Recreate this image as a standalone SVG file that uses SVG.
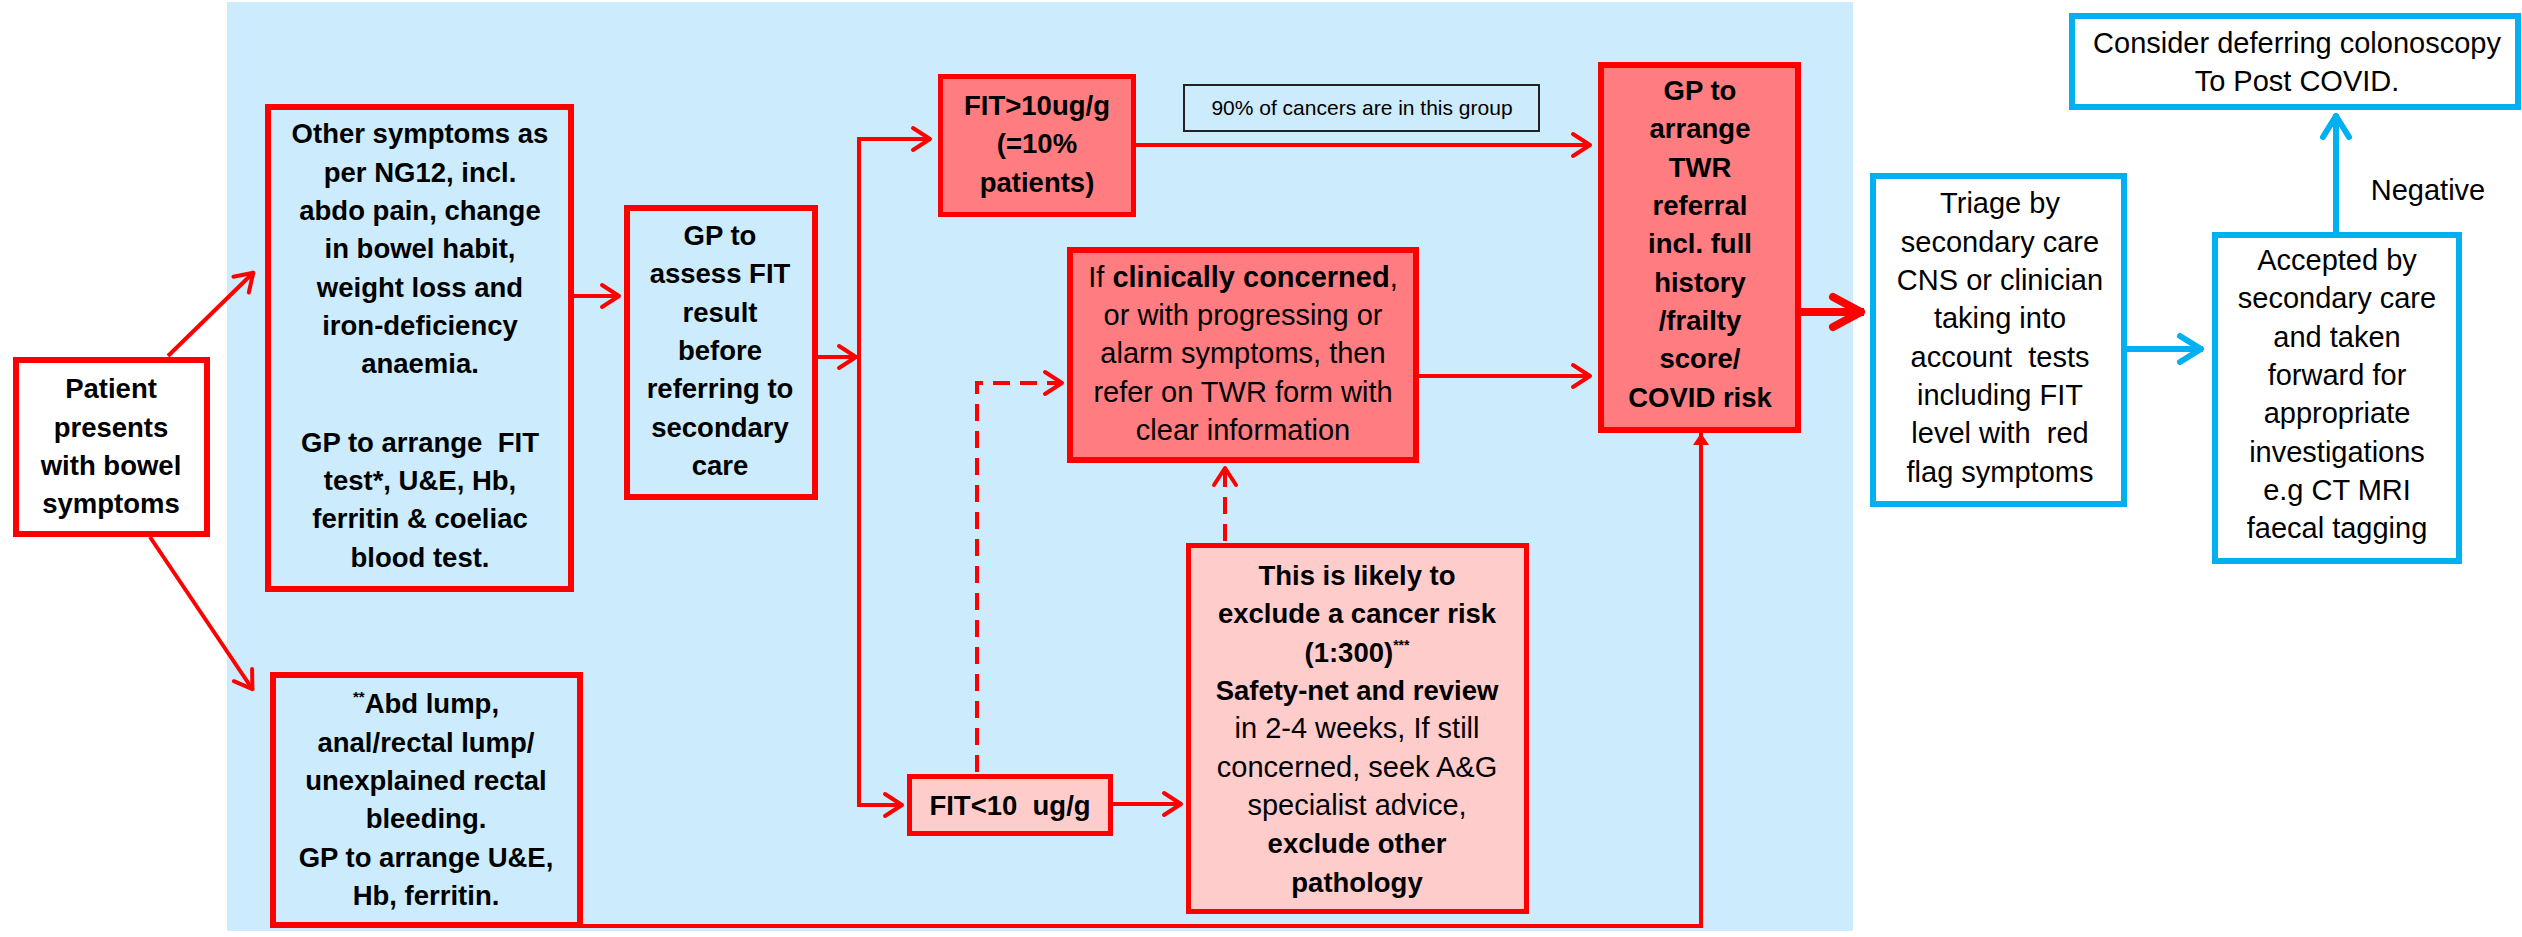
<svg xmlns="http://www.w3.org/2000/svg" width="2522" height="937" viewBox="0 0 2522 937">
<style>
  text { font-family: "Liberation Sans", Arial, sans-serif; fill: #000; text-anchor: middle; }
  .b { font-weight: bold; font-size: 27.5px; }
  .r { font-weight: normal; font-size: 29px; }
  .bt { font-weight: bold; }
  .redbox { stroke: #FF0000; stroke-width: 6; }
  .bluebox { stroke: #00B0F0; stroke-width: 6; fill: #FFFFFF; }
  .lb { fill: #CCEBFC; }
  .salmon { fill: #FF7C80; }
  .pink { fill: #FFCCCC; }
  .conn { fill: none; stroke: #FF0000; stroke-width: 4; }
  .dash { stroke-dasharray: 17 10; }
  .bconn { fill: none; stroke: #00B0F0; stroke-width: 6; }
</style>
<defs>
  <marker id="ar" markerUnits="userSpaceOnUse" viewBox="-30 -20 40 40" markerWidth="40" markerHeight="40" refX="0" refY="0" orient="auto" overflow="visible">
    <path d="M-18,-11 L-1,0 L-18,11" fill="none" stroke="#FF0000" stroke-width="4" stroke-linecap="round" stroke-linejoin="round"/>
  </marker>
  <marker id="arBig" markerUnits="userSpaceOnUse" viewBox="-40 -25 50 50" markerWidth="50" markerHeight="50" refX="0" refY="0" orient="auto" overflow="visible">
    <path d="M-31,-15 L-3,0 L-31,15" fill="none" stroke="#FF0000" stroke-width="8" stroke-linecap="round" stroke-linejoin="round"/>
  </marker>
  <marker id="tri" markerUnits="userSpaceOnUse" viewBox="-20 -10 25 20" markerWidth="25" markerHeight="20" refX="0" refY="0" orient="auto" overflow="visible">
    <path d="M0,0 L-12,-8 L-12,8 Z" fill="#FF0000"/>
  </marker>
  <marker id="arBlue" markerUnits="userSpaceOnUse" viewBox="-35 -20 45 40" markerWidth="45" markerHeight="40" refX="0" refY="0" orient="auto" overflow="visible">
    <path d="M-23,-13 L-2,0 L-23,13" fill="none" stroke="#00B0F0" stroke-width="6" stroke-linecap="round" stroke-linejoin="round"/>
  </marker>
</defs>

<rect x="227" y="2" width="1626" height="929" fill="#CCEBFC"/>

<g id="connectors">
  <path class="conn" d="M168,356 L254,272" marker-end="url(#ar)"/>
  <path class="conn" d="M150,537 L253,690" marker-end="url(#ar)"/>
  <path class="conn" d="M574,296 L620,296" marker-end="url(#ar)"/>
  <path class="conn" d="M818,357 L857,357" marker-end="url(#ar)"/>
  <path class="conn" d="M859,807 L859,139 L931,139" marker-end="url(#ar)"/>
  <path class="conn" d="M859,805 L903,805" marker-end="url(#ar)"/>
  <path class="conn" d="M1136,145 L1591,145" marker-end="url(#ar)"/>
  <path class="conn" d="M1419,376 L1591,376" marker-end="url(#ar)"/>
  <path class="conn" d="M1113,804 L1182,804" marker-end="url(#ar)"/>
  <path class="conn dash" d="M1225,541 L1225,467" marker-end="url(#ar)"/>
  <path class="conn dash" d="M977,772 L977,383 L1063,383" marker-end="url(#ar)"/>
  <path class="conn" d="M583,926 L1701,926 L1701,433" marker-end="url(#tri)"/>
  <path fill="none" stroke="#FF0000" stroke-width="8" d="M1801,312 L1864,312" marker-end="url(#arBig)"/>
  <path class="bconn" d="M2127,349 L2203,349" marker-end="url(#arBlue)"/>
  <path class="bconn" d="M2336,232 L2336,114" marker-end="url(#arBlue)"/>
</g>

<g id="patient">
  <rect class="redbox" x="16" y="360" width="191" height="174" fill="#FFFFFF"/>
  <text class="b" x="111" y="398">Patient</text>
  <text class="b" x="111" y="437">presents</text>
  <text class="b" x="111" y="475">with bowel</text>
  <text class="b" x="111" y="513">symptoms</text>
</g>

<g id="other-symptoms">
  <rect class="redbox lb" x="268" y="107" width="303" height="482"/>
  <text class="b" x="420" y="143">Other symptoms as</text>
  <text class="b" x="420" y="182">per NG12, incl.</text>
  <text class="b" x="420" y="220">abdo pain, change</text>
  <text class="b" x="420" y="258">in bowel habit,</text>
  <text class="b" x="420" y="297">weight loss and</text>
  <text class="b" x="420" y="335">iron-deficiency</text>
  <text class="b" x="420" y="373">anaemia.</text>
  <text class="b" x="420" y="452" xml:space="preserve">GP to arrange  FIT</text>
  <text class="b" x="420" y="490">test*, U&amp;E, Hb,</text>
  <text class="b" x="420" y="528">ferritin &amp; coeliac</text>
  <text class="b" x="420" y="567">blood test.</text>
</g>

<g id="gp-assess">
  <rect class="redbox lb" x="627" y="208" width="188" height="289"/>
  <text class="b" x="720" y="245">GP to</text>
  <text class="b" x="720" y="283">assess FIT</text>
  <text class="b" x="720" y="322">result</text>
  <text class="b" x="720" y="360">before</text>
  <text class="b" x="720" y="398">referring to</text>
  <text class="b" x="720" y="437">secondary</text>
  <text class="b" x="720" y="475">care</text>
</g>

<g id="abd-lump">
  <rect class="redbox lb" x="273" y="675" width="307" height="250"/>
  <text class="b" x="426" y="713"><tspan font-size="15" dy="-11">**</tspan><tspan dy="11">Abd lump,</tspan></text>
  <text class="b" x="426" y="752">anal/rectal lump/</text>
  <text class="b" x="426" y="790">unexplained rectal</text>
  <text class="b" x="426" y="828">bleeding.</text>
  <text class="b" x="426" y="867">GP to arrange U&amp;E,</text>
  <text class="b" x="426" y="905">Hb, ferritin.</text>
</g>

<g id="fit-high">
  <rect class="salmon" stroke="#FF0000" stroke-width="5" x="940.5" y="76.5" width="193" height="138"/>
  <text class="b" x="1037" y="115">FIT&gt;10ug/g</text>
  <text class="b" x="1037" y="153">(=10%</text>
  <text class="b" x="1037" y="192">patients)</text>
</g>

<g id="note-90">
  <rect class="lb" stroke="#222222" stroke-width="2" x="1184" y="85" width="355" height="46"/>
  <text x="1362" y="115" font-size="21">90% of cancers are in this group</text>
</g>

<g id="clinically-concerned">
  <rect class="redbox salmon" x="1070" y="250" width="346" height="210"/>
  <text class="r" x="1243" y="287">If <tspan class="bt">clinically concerned</tspan>,</text>
  <text class="r" x="1243" y="325">or with progressing or</text>
  <text class="r" x="1243" y="363">alarm symptoms, then</text>
  <text class="r" x="1243" y="402">refer on TWR form with</text>
  <text class="r" x="1243" y="440">clear information</text>
</g>

<g id="gp-twr">
  <rect class="redbox salmon" x="1601" y="65" width="197" height="365"/>
  <text class="b" x="1700" y="100">GP to</text>
  <text class="b" x="1700" y="138">arrange</text>
  <text class="b" x="1700" y="177">TWR</text>
  <text class="b" x="1700" y="215">referral</text>
  <text class="b" x="1700" y="253">incl. full</text>
  <text class="b" x="1700" y="292">history</text>
  <text class="b" x="1700" y="330">/frailty</text>
  <text class="b" x="1700" y="368">score/</text>
  <text class="b" x="1700" y="407">COVID risk</text>
</g>

<g id="fit-low">
  <rect class="pink" stroke="#FF0000" stroke-width="5" x="909.5" y="776.5" width="201" height="57"/>
  <text class="b" x="1010" y="815" xml:space="preserve">FIT&lt;10  ug/g</text>
</g>

<g id="likely-exclude">
  <rect class="pink" stroke="#FF0000" stroke-width="5" x="1188.5" y="545.5" width="338" height="366"/>
  <text class="b" x="1357" y="585">This is likely to</text>
  <text class="b" x="1357" y="623">exclude a cancer risk</text>
  <text class="b" x="1357" y="662">(1:300)<tspan font-size="14" dy="-12">***</tspan></text>
  <text class="b" x="1357" y="700">Safety-net and review</text>
  <text class="r" x="1357" y="738">in 2-4 weeks, If still</text>
  <text class="r" x="1357" y="777">concerned, seek A&amp;G</text>
  <text class="r" x="1357" y="815">specialist advice,</text>
  <text class="b" x="1357" y="853">exclude other</text>
  <text class="b" x="1357" y="892">pathology</text>
</g>

<g id="triage">
  <rect class="bluebox" x="1873" y="176" width="251" height="328"/>
  <text class="r" x="2000" y="213">Triage by</text>
  <text class="r" x="2000" y="252">secondary care</text>
  <text class="r" x="2000" y="290">CNS or clinician</text>
  <text class="r" x="2000" y="328">taking into</text>
  <text class="r" x="2000" y="367" xml:space="preserve">account  tests</text>
  <text class="r" x="2000" y="405">including FIT</text>
  <text class="r" x="2000" y="443" xml:space="preserve">level with  red</text>
  <text class="r" x="2000" y="482">flag symptoms</text>
</g>

<g id="accepted">
  <rect class="bluebox" x="2215" y="235" width="244" height="326"/>
  <text class="r" x="2337" y="270">Accepted by</text>
  <text class="r" x="2337" y="308">secondary care</text>
  <text class="r" x="2337" y="347">and taken</text>
  <text class="r" x="2337" y="385">forward for</text>
  <text class="r" x="2337" y="423">appropriate</text>
  <text class="r" x="2337" y="462">investigations</text>
  <text class="r" x="2337" y="500">e.g CT MRI</text>
  <text class="r" x="2337" y="538">faecal tagging</text>
</g>

<g id="consider">
  <rect class="bluebox" x="2072" y="16" width="446" height="91"/>
  <text class="r" x="2297" y="53">Consider deferring colonoscopy</text>
  <text class="r" x="2297" y="91">To Post COVID.</text>
</g>

<g id="negative-label">
  <text class="r" x="2428" y="200">Negative</text>
</g>
</svg>
